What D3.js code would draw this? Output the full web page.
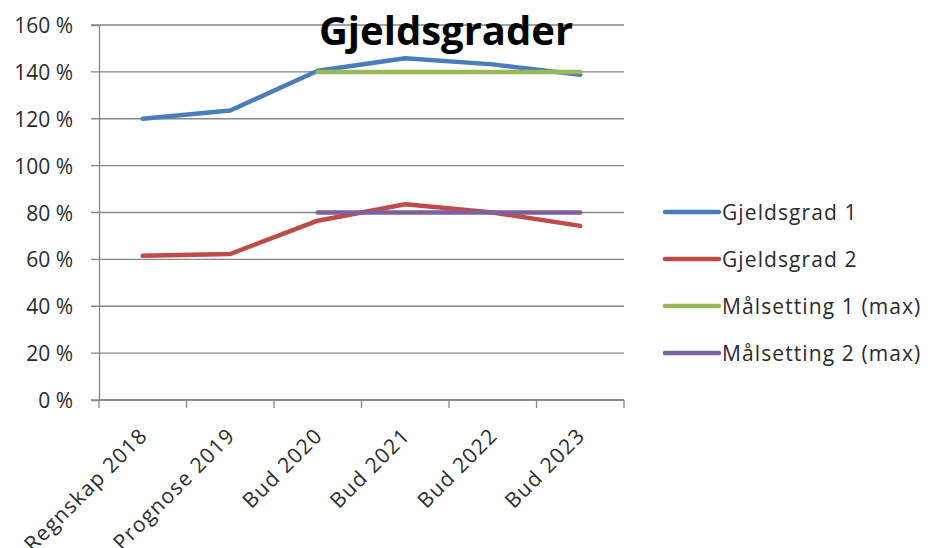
<!DOCTYPE html>
<html>
<head>
<meta charset="utf-8">
<script src="https://cdn.jsdelivr.net/npm/d3@7"></script>
<style>
  body { margin: 0; background: #fff; }
  text { font-family: "Open Sans", "DejaVu Sans", sans-serif; }
</style>
</head>
<body>
<div id="chart"></div>
<script>
// categories and series values (percent)
const categories = ['Regnskap 2018', 'Prognose 2019', 'Bud 2020', 'Bud 2021', 'Bud 2022', 'Bud 2023'];
const gjeldsgrad1 = [120, 123.5, 140.5, 145.8, 143.2, 138.8];
const gjeldsgrad2 = [61.5, 62.3, 76.5, 83.5, 80, 74.3];
const malsetting1 = [null, null, 140, 140, 140, 140];
const malsetting2 = [null, null, 80, 80, 80, 80];
const yTicks = [0, 20, 40, 60, 80, 100, 120, 140, 160];

const series = [
  {name: 'Gjeldsgrad 1', values: gjeldsgrad1, color: '#4a7ebb'},
  {name: 'Gjeldsgrad 2', values: gjeldsgrad2, color: '#be4b48'},
  {name: 'Målsetting 1 (max)', values: malsetting1, color: '#98b954'},
  {name: 'Målsetting 2 (max)', values: malsetting2, color: '#7d60a0'}
];

const width = 928, height = 548;
const margin = {left: 99, right: 304, top: 25, bottom: 148};
const textColor = '#2b2b2b';

const svg = d3.select('#chart').append('svg')
  .attr('width', width).attr('height', height);

const x = d3.scaleBand().domain(categories)
  .range([margin.left, width - margin.right]);
const y = d3.scaleLinear().domain([0, 160])
  .range([height - margin.bottom, margin.top]);

// gridlines
svg.append('g')
  .selectAll('line')
  .data(yTicks)
  .enter().append('line')
  .attr('x1', margin.left - 8)
  .attr('x2', width - margin.right)
  .attr('y1', d => y(d)).attr('y2', d => y(d))
  .attr('stroke', '#868686').attr('stroke-width', 1.3);

// y axis
const yAxis = svg.append('g')
  .attr('transform', `translate(${margin.left},0)`)
  .call(d3.axisLeft(y).tickValues(yTicks).tickSize(8).tickFormat(d => d + ' %'));
yAxis.select('.domain').attr('stroke', '#868686').attr('stroke-width', 1.3);
yAxis.selectAll('.tick line').remove();
yAxis.selectAll('.tick text')
  .attr('x', -26)
  .attr('dy', '0.36em')
  .attr('font-size', 21)
  .attr('fill', textColor)
  .style('font-family', '"Open Sans", sans-serif');

// x axis with ticks at band edges
const xAxisG = svg.append('g')
  .attr('transform', `translate(0,${y(0)})`);
xAxisG.append('line')
  .attr('x1', margin.left).attr('x2', width - margin.right)
  .attr('stroke', '#868686').attr('stroke-width', 1.3);
const edges = categories.map(c => x(c)).concat([x(categories[categories.length - 1]) + x.bandwidth()]);
xAxisG.selectAll('.edge')
  .data(edges)
  .enter().append('line')
  .attr('class', 'edge')
  .attr('x1', d => d).attr('x2', d => d)
  .attr('y1', 0).attr('y2', 8)
  .attr('stroke', '#868686').attr('stroke-width', 1.3);
xAxisG.selectAll('.lbl')
  .data(categories)
  .enter().append('text')
  .attr('class', 'lbl')
  .attr('text-anchor', 'end')
  .attr('font-size', 21)
  .attr('letter-spacing', 1.2)
  .attr('fill', textColor)
  .attr('transform', d => `translate(${x(d) + x.bandwidth() / 2 + 6},${37}) rotate(-45)`)
  .text(d => d);

// lines
const line = d3.line()
  .defined(d => d.v !== null)
  .x(d => x(d.c) + x.bandwidth() / 2)
  .y(d => y(d.v));

svg.append('g')
  .selectAll('path')
  .data(series)
  .enter().append('path')
  .attr('d', s => line(s.values.map((v, i) => ({c: categories[i], v}))))
  .attr('fill', 'none')
  .attr('stroke', s => s.color)
  .attr('stroke-width', 4.5)
  .attr('stroke-linejoin', 'round')
  .attr('stroke-linecap', 'round');

// title
svg.append('text')
  .attr('x', 446).attr('y', 45)
  .attr('text-anchor', 'middle')
  .attr('font-size', 40)
  .attr('font-weight', 'bold')
  .attr('fill', '#000')
  .text('Gjeldsgrader');

// legend
const legend = svg.append('g')
  .selectAll('g')
  .data(series)
  .enter().append('g')
  .attr('transform', (d, i) => `translate(665,${212 + i * 47})`);
legend.append('line')
  .attr('x1', 0).attr('x2', 54)
  .attr('stroke', d => d.color)
  .attr('stroke-width', 4.5)
  .attr('stroke-linecap', 'round');
legend.append('text')
  .attr('x', 57).attr('y', 7.5)
  .attr('font-size', 21)
  .attr('letter-spacing', 1.1)
  .attr('fill', textColor)
  .text(d => d.name);
</script>
</body>
</html>
